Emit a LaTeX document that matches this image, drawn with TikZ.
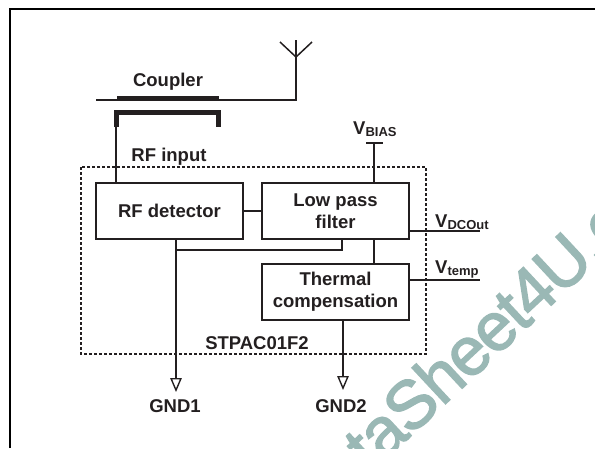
\documentclass[tikz,border=0pt]{standalone}
\usepackage{fontspec}
\setmainfont{Liberation Sans}
\usetikzlibrary{arrows.meta}
\definecolor{inkc}{HTML}{231F20}
\definecolor{markc}{HTML}{9AB8B5}
\newfontfamily\markfont[FakeBold=2,LetterSpace=-2.5]{Liberation Sans}
\newcommand{\vsub}[1]{V{\fontsize{13}{14}\selectfont\raisebox{-2pt}{#1}}}
\tikzset{
  wire/.style={draw=inkc, line width=1.5pt},
  heavy/.style={draw=inkc, line width=5pt},
  block/.style={wire, rectangle, inner sep=0pt, minimum width=147pt, minimum height=56pt, align=center, text=inkc, font=\lab},
  lab/.style={text=inkc, inner sep=0pt, font=\lab},
  gndarrow/.style={wire, -{Triangle[open, length=14pt, width=11.5pt, line width=1.4pt]}}
}
\newcommand{\lab}{\fontsize{18.5}{22}\selectfont\bfseries}
\begin{document}
\begin{tikzpicture}[x=1pt, y=-1pt]
\useasboundingbox (0,0) rectangle (595,448);
\begin{scope}
\clip (0,0) rectangle (595,448);
\node[text=markc, inner sep=0pt, rotate=43, font=\markfont\fontsize{68}{68}\selectfont] (mark) at (488,331){DataSheet4U.com};
\end{scope}
\coordinate (frameb) at (10,448);
\coordinate (framec) at (10,9);
\coordinate (framer) at (595,9);
\draw[line width=2pt](frameb) -- (framec) -- (framer);
\coordinate (anttop) at (296,40);
\coordinate (antjoin) at (296,57);
\coordinate (antl) at (280,42);
\coordinate (antr) at (312,42);
\coordinate (antfoot) at (296,100);
\coordinate (linestart) at (96,100);
\draw[wire](antl) -- (antjoin) -- (antr);
\draw[wire](anttop) -- (antfoot) -- (linestart);
\coordinate (coupa) at (117,98);
\coordinate (coupb) at (219,98);
\draw[heavy](coupa) -- (coupb);
\coordinate (braa) at (116,127);
\coordinate (brab) at (116,112.5);
\coordinate (brac) at (218,112.5);
\coordinate (brad) at (218,127);
\draw[heavy](braa) -- (brab) -- (brac) -- (brad);
\node[lab] (coupler) at (168,82){Coupler};
\node[lab] (rfinput) at (169,157){RF input};
\coordinate (dasha) at (81,167);
\coordinate (dashb) at (426,354);
\draw[draw=inkc, line width=1.3pt, dash pattern=on 3pt off 2pt](dasha) rectangle (dashb);
\node[block] (rfdet) at (169.5,211){RF detector};
\node[block] (lpf) at (335.5,211){Low pass\\filter};
\node[block] (therm) at (335.5,292){Thermal\\compensation};
\coordinate (rftop) at (116,183);
\draw[wire](braa) -- (rftop);
\draw[wire](rfdet.east) -- (lpf.west);
\coordinate (rfout) at (176,239);
\coordinate (gndone) at (176,392);
\draw[gndarrow](rfout) -- (gndone);
\coordinate (busa) at (176,250);
\coordinate (busb) at (342,250);
\coordinate (busc) at (342,239);
\draw[wire](busa) -- (busb) -- (busc);
\coordinate (lpfbot) at (374,239);
\coordinate (thermtop) at (374,263.5);
\draw[wire](lpfbot) -- (thermtop);
\coordinate (lpftop) at (374,183);
\coordinate (bias) at (374,143);
\coordinate (biasl) at (366,143);
\coordinate (biasr) at (383,143);
\draw[wire](lpftop) -- (bias);
\draw[wire](biasl) -- (biasr);
\node[lab, anchor=base west] (vbias) at (353,134){\vsub{BIAS}};
\coordinate (lpfr) at (409,231);
\coordinate (dcend) at (480,231);
\draw[wire](lpfr) -- (dcend);
\node[lab, anchor=base west] (vdc) at (435,227){\vsub{DCOut}};
\coordinate (thermr) at (409,280);
\coordinate (tempend) at (480,280);
\draw[wire](thermr) -- (tempend);
\node[lab, anchor=base west] (vtemp) at (435,273){\vsub{temp}};
\coordinate (thermbot) at (343,320);
\coordinate (gndtwo) at (343,390);
\draw[gndarrow](thermbot) -- (gndtwo);
\node[lab] (stpac) at (257,343){STPAC01F2};
\node[lab] (gndonel) at (175,406){GND1};
\node[lab] (gndtwol) at (341,406){GND2};
\end{tikzpicture}
\end{document}
